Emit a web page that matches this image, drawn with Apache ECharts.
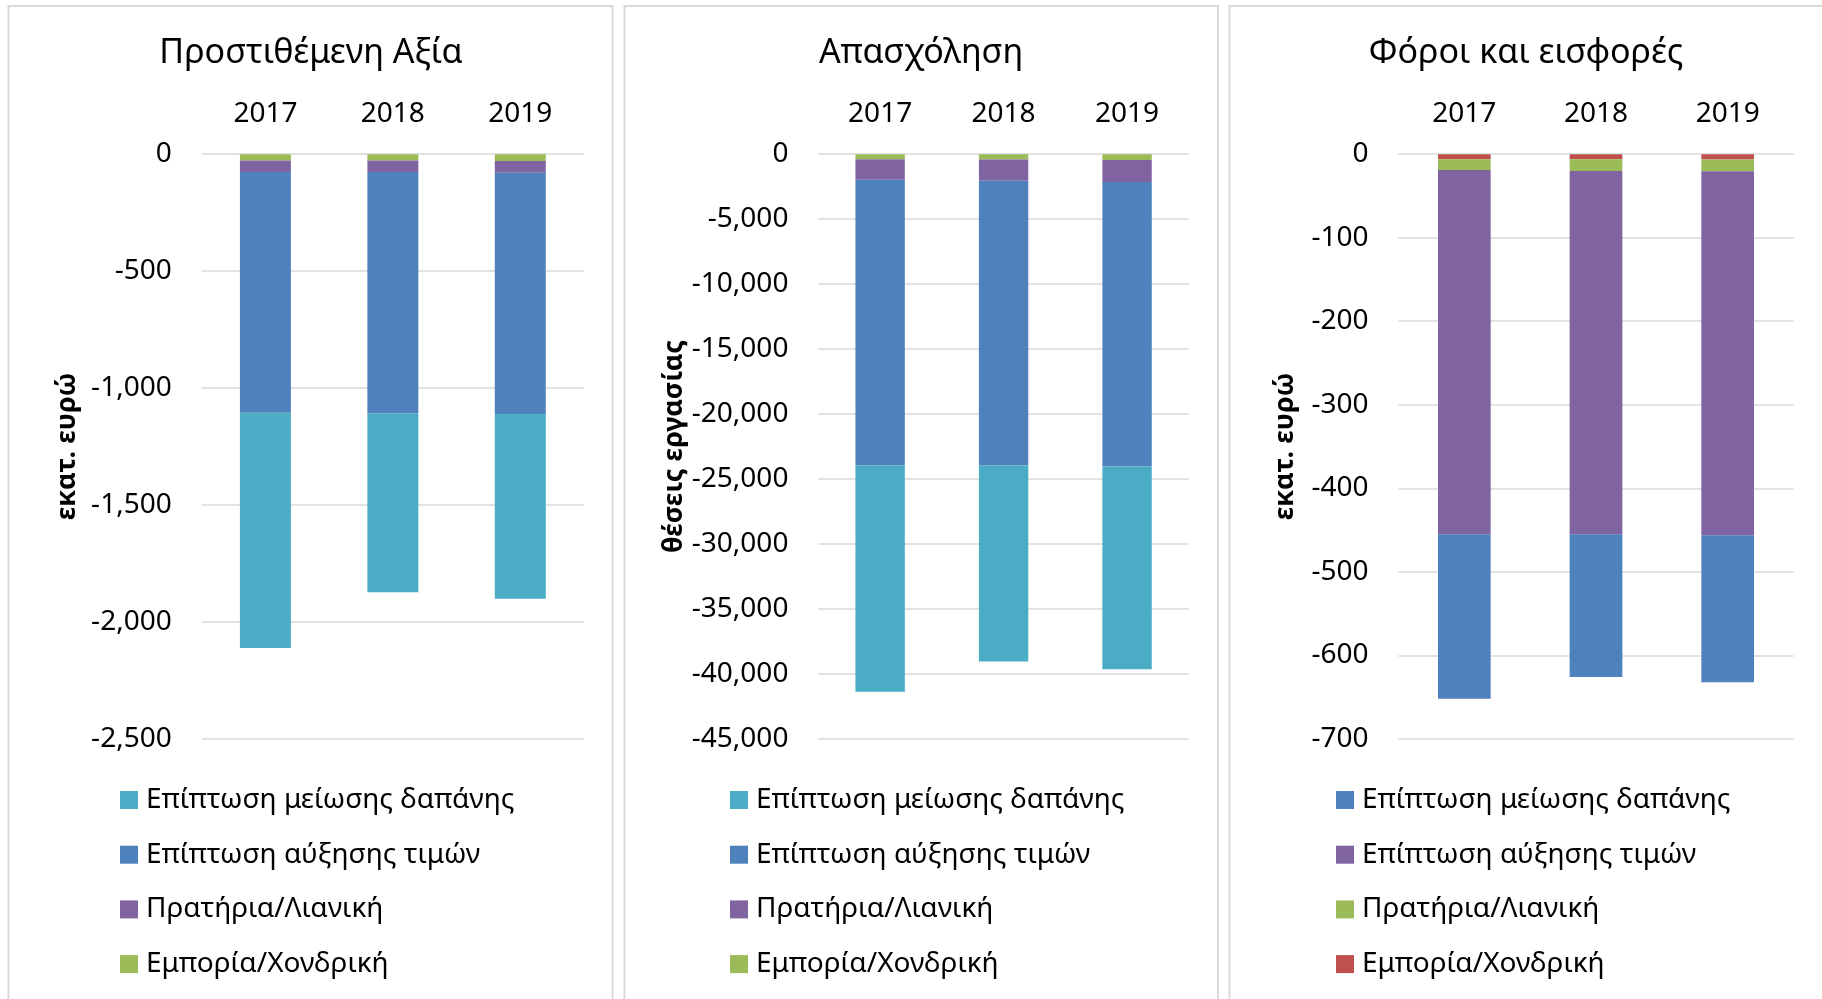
<!DOCTYPE html>
<html>
<head>
<meta charset="utf-8">
<script src="https://cdn.jsdelivr.net/npm/echarts@6/dist/echarts.min.js"></script>
<style>
  html, body { margin: 0; padding: 0; background: #fff; }
  #chart { width: 1822px; height: 999px; }
</style>
</head>
<body>
<div id="chart"></div>
<script>
// ---- data ----
const years = ['2017', '2018', '2019'];

const panelTitles = ['Προστιθέμενη Αξία', 'Απασχόληση', 'Φόροι και εισφορές'];
const axisNames = ['εκατ. ευρώ', 'θέσεις εργασίας', 'εκατ. ευρώ'];

const seriesNames = ['Εμπορία/Χονδρική', 'Πρατήρια/Λιανική', 'Επίπτωση αύξησης τιμών', 'Επίπτωση μείωσης δαπάνης'];

// Προστιθέμενη Αξία (εκατ. ευρώ)
const vaWholesale = [-27, -27, -29];
const vaRetail = [-49, -49, -50];
const vaPrice = [-1030, -1033, -1032];
const vaSpending = [-1006, -764, -790];

// Απασχόληση (θέσεις εργασίας)
const empWholesale = [-380, -410, -440];
const empRetail = [-1590, -1640, -1700];
const empPrice = [-21990, -21905, -21906];
const empSpending = [-17415, -15090, -15608];

// Φόροι και εισφορές (εκατ. ευρώ)
const taxWholesale = [-6, -6, -6.4];
const taxRetail = [-13, -14, -14];
const taxPrice = [-436, -435, -436];
const taxSpending = [-197, -171, -176];

// axis ranges
const yMins = [-2500, -45000, -700];
const yIntervals = [500, 5000, 100];

// ---- styling ----
const FONT = 'Noto Sans';
const palA = ['#9BBB59', '#8064A2', '#4F81BD', '#4BACC6'];
const palB = ['#C0504D', '#9BBB59', '#8064A2', '#4F81BD'];
const palettes = [palA, palA, palB];
const panelData = [
  [vaWholesale, vaRetail, vaPrice, vaSpending],
  [empWholesale, empRetail, empPrice, empSpending],
  [taxWholesale, taxRetail, taxPrice, taxSpending]
];

const grids = [
  { left: 201.7, width: 382.3, top: 154.2, height: 584.6 },
  { left: 818.4, width: 370.4, top: 154.2, height: 584.6 },
  { left: 1398.5, width: 395, top: 154.2, height: 584.6 }
];
const titleCenters = [311, 921, 1526];
const legendLefts = [120, 730, 1336];
const nameGaps = [121, 124, 100];

const fmt = v => v === 0 ? '0' : v.toLocaleString('en-US');

const option = {
  animation: false,
  backgroundColor: '#fff',
  textStyle: { fontFamily: FONT },
  graphic: [
    { type: 'rect', shape: { x: 8.5, y: 6, width: 604, height: 1100 }, style: { fill: 'none', stroke: '#d9d9d9', lineWidth: 2 }, silent: true },
    { type: 'rect', shape: { x: 624.5, y: 6, width: 593.5, height: 1100 }, style: { fill: 'none', stroke: '#d9d9d9', lineWidth: 2 }, silent: true },
    { type: 'rect', shape: { x: 1229.5, y: 6, width: 700, height: 1100 }, style: { fill: 'none', stroke: '#d9d9d9', lineWidth: 2 }, silent: true }
  ],
  title: panelTitles.map((t, i) => ({
    text: t,
    left: titleCenters[i],
    textAlign: 'center',
    top: 36,
    padding: 0,
    textStyle: { fontFamily: FONT, fontSize: 34, fontWeight: 'normal', color: '#000' }
  })),
  legend: [0, 1, 2].map(i => ({
    orient: 'vertical',
    left: legendLefts[i],
    top: 785,
    padding: 0,
    itemWidth: 18,
    itemHeight: 18,
    itemGap: 24.7,
    selectedMode: false,
    icon: 'rect',
    textStyle: { fontFamily: FONT, fontSize: 28, color: '#000', lineHeight: 30, padding: [0, 0, 0, 3] },
    data: seriesNames.slice().reverse().map((n, k) => ({
      name: n,
      itemStyle: { color: palettes[i][3 - k] }
    }))
  })),
  grid: grids,
  xAxis: [0, 1, 2].map(i => ({
    type: 'category',
    gridIndex: i,
    position: 'top',
    data: years,
    axisLine: { show: false },
    axisTick: { show: false },
    axisLabel: { fontFamily: FONT, fontSize: 28, color: '#000', margin: 26 }
  })),
  yAxis: [0, 1, 2].map(i => ({
    type: 'value',
    gridIndex: i,
    min: yMins[i],
    max: 0,
    interval: yIntervals[i],
    name: axisNames[i],
    nameLocation: 'middle',
    nameGap: nameGaps[i],
    nameTextStyle: { fontFamily: FONT, fontSize: 27, fontWeight: 'bold', color: '#000' },
    axisLine: { show: false },
    axisTick: { show: false },
    splitLine: { lineStyle: { color: '#d9d9d9', width: 1.5 } },
    axisLabel: { fontFamily: FONT, fontSize: 28, color: '#000', margin: 30, formatter: fmt }
  })),
  series: []
};

for (let p = 0; p < 3; p++) {
  for (let s = 0; s < 4; s++) {
    option.series.push({
      type: 'bar',
      name: seriesNames[s],
      xAxisIndex: p,
      yAxisIndex: p,
      stack: 'panel' + p,
      barWidth: '40%',
      data: panelData[p][s],
      itemStyle: { color: palettes[p][s] }
    });
  }
}

const chart = echarts.init(document.getElementById('chart'), null, { renderer: 'canvas' });
chart.setOption(option);
</script>
</body>
</html>
